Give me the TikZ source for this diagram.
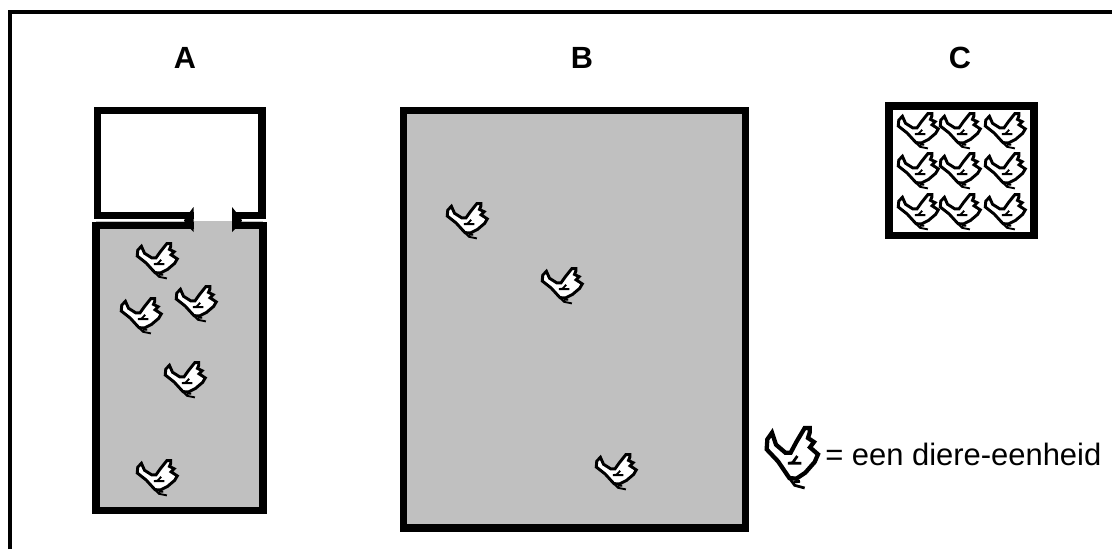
\documentclass[tikz,border=0pt]{standalone}
\usepackage{fontspec}
\setmainfont{Liberation Sans}
\definecolor{floorgray}{gray}{0.753}
\tikzset{
  x=0.75pt,y=-0.75pt,
  frameline/.style={line width=3pt,line cap=butt,line join=miter},
  wall/.style={draw=black,line width=5.7pt,line join=miter,line cap=butt},
  title/.style={font=\bfseries\fontsize{23}{26}\selectfont,anchor=base,inner sep=0pt},
  legendtext/.style={font=\fontsize{23.2}{26}\selectfont,anchor=base west,inner sep=0pt},
  hen/.style={xscale=.78,yscale=.58,line width=2.2pt},
  bighen/.style={line width=3.2pt},
  chick/.pic={
    \begin{scope}[scale=1/3,shift={(-112,-108)},line join=miter,line cap=butt]
      \filldraw[fill=white] (52,32) -- (38,52) -- (36,82) -- (70,118) -- (104,168) -- (125,170)
        -- (152,152) -- (180,120) -- (190,97) -- (166,76) -- (178,60) -- (160,48) -- (165,32)
        -- (165,18) -- (150,18) -- (125,60) -- (108,92) -- (92,92) -- (64,68) -- cycle;
      \draw[line width=.8*\pgflinewidth] (128,102) -- (114,122) -- (100,124) -- (140,124);
      \draw[line width=.8*\pgflinewidth] (104,168) -- (120,190) -- (150,198);
      \draw[line width=.8*\pgflinewidth] (118,180) -- (136,178);
    \end{scope}
  }
}
\begin{document}
\begin{tikzpicture}
\useasboundingbox (0,0) rectangle (1112,549);
\fill[white] (0,0) rectangle (1112,549);
% outer frame, open at right and bottom
\coordinate (frameA) at (10,549);
\coordinate (frameB) at (10,12);
\coordinate (frameC) at (1112,12);
\draw[frameline] (frameA) -- (frameB) -- (frameC);
% box A
\fill[floorgray] (96,221) rectangle (263,511);
\draw[wall] (194,225.5) -- (96,225.5) -- (96,510.5) -- (263,510.5) -- (263,225.5) -- (232,225.5);
\draw[wall] (194,215.5) -- (97.5,215.5) -- (97.5,110.5) -- (262,110.5) -- (262,215.5) -- (232,215.5);
\fill[black] (193.5,207) -- (193.5,232) -- (186,224) -- (184,220.5) -- (186,217) -- cycle;
\fill[black] (232,207) -- (232,232) -- (240,224) -- (242,220.5) -- (240,217) -- cycle;
\draw[white,line width=0.75pt] (92,220.5) -- (184,220.5) (242,220.5) -- (268,220.5);
% box B
\filldraw[wall,fill=floorgray] (403.5,110.5) rectangle (745.5,528);
% box C
\draw[wall] (889,106) rectangle (1034,235.5);
% hens
\foreach \hx/\hy in {157/261,141/316,196/304,185/380,157/478,467/221,562/286,616/472,
  918/131,960/131,1005/131,918/171,960/171,1005/171,918/212,960/212,1005/212}
  \pic[hen] at (\hx,\hy) {chick};
\pic[bighen] at (792,458) {chick};
% labels
\node[title] (la) at (185,69) {A};
\node[title] (lb) at (582,69) {B};
\node[title] (lc) at (960,69) {C};
\node[legendtext] (leg) at (825,465) {= een diere-eenheid};
\end{tikzpicture}
\end{document}
